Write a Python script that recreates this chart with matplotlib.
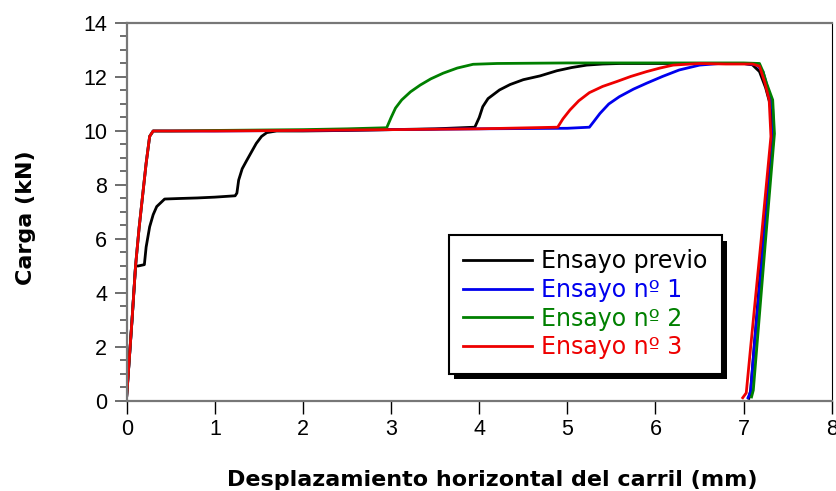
import matplotlib
matplotlib.use('Agg')
import matplotlib.pyplot as plt
import matplotlib.patheffects as pe
from matplotlib.ticker import MultipleLocator

plt.rcParams['font.family'] = ['Liberation Sans', 'DejaVu Sans']

# Ensayo previo
prev_x = [0.0, 0.03, 0.06, 0.10, 0.13, 0.20, 0.22, 0.26, 0.30, 0.34, 0.43, 0.60, 0.80, 1.00,
          1.23, 1.25, 1.27, 1.31, 1.36, 1.42, 1.47, 1.53, 1.59, 1.70, 2.00, 2.50, 3.00, 3.50,
          3.95, 4.00, 4.04, 4.10, 4.23, 4.35, 4.50, 4.69, 4.88, 5.05, 5.22, 5.40, 5.60, 6.00,
          6.50, 7.00, 7.10, 7.18, 7.25, 7.30, 7.33, 7.22, 7.12, 7.08, 7.06]
prev_y = [0.2, 1.6, 3.0, 5.0, 5.0, 5.05, 5.7, 6.45, 6.9, 7.2, 7.48, 7.5, 7.52, 7.55,
          7.6, 7.7, 8.18, 8.6, 8.9, 9.25, 9.54, 9.8, 9.94, 10.0, 10.0, 10.02, 10.05, 10.08,
          10.14, 10.5, 10.9, 11.2, 11.52, 11.72, 11.9, 12.04, 12.23, 12.35, 12.44, 12.48, 12.5, 12.5,
          12.5, 12.5, 12.45, 12.2, 11.6, 11.0, 10.0, 6.0, 2.0, 0.4, 0.1]

# Ensayo nº 1
e1_x = [0.0, 0.03, 0.06, 0.10, 0.14, 0.18, 0.22, 0.26, 0.30, 0.50, 1.00, 2.00, 3.00, 4.00,
        5.00, 5.25, 5.30, 5.37, 5.47, 5.59, 5.75, 5.90, 6.08, 6.27, 6.50, 6.73, 7.00, 7.15,
        7.22, 7.28, 7.33, 7.34, 7.23, 7.12, 7.08, 7.05]
e1_y = [0.2, 1.6, 3.0, 5.0, 6.4, 7.6, 8.8, 9.8, 10.0, 10.0, 10.0, 10.02, 10.05, 10.08,
        10.1, 10.14, 10.35, 10.65, 11.0, 11.27, 11.55, 11.77, 12.02, 12.26, 12.44, 12.5, 12.5, 12.45,
        12.2, 11.5, 10.8, 9.8, 6.0, 2.0, 0.35, 0.12]

# Ensayo nº 2
e2_x = [0.0, 0.03, 0.06, 0.10, 0.14, 0.18, 0.22, 0.26, 0.30, 0.50, 1.00, 2.00, 2.50, 2.95,
        3.00, 3.05, 3.12, 3.22, 3.33, 3.45, 3.59, 3.75, 3.93, 4.20, 5.00, 6.00, 7.00, 7.18,
        7.22, 7.26, 7.33, 7.35, 7.25, 7.15, 7.11, 7.09]
e2_y = [0.2, 1.6, 3.0, 5.0, 6.4, 7.6, 8.8, 9.8, 10.0, 10.0, 10.02, 10.05, 10.08, 10.12,
        10.5, 10.85, 11.15, 11.45, 11.7, 11.93, 12.14, 12.33, 12.47, 12.5, 12.52, 12.52, 12.52, 12.5,
        12.2, 11.77, 11.15, 9.9, 6.0, 2.0, 0.4, 0.15]

# Ensayo nº 3
e3_x = [0.0, 0.03, 0.06, 0.10, 0.14, 0.18, 0.22, 0.26, 0.30, 0.50, 1.00, 2.00, 3.00, 4.00,
        4.89, 4.95, 5.03, 5.13, 5.25, 5.40, 5.56, 5.72, 5.90, 6.05, 6.20, 6.50, 6.80, 7.10,
        7.18, 7.24, 7.29, 7.31, 7.20, 7.08, 7.03, 6.99]
e3_y = [0.2, 1.6, 3.0, 5.0, 6.4, 7.6, 8.8, 9.8, 10.0, 10.0, 10.0, 10.02, 10.05, 10.08,
        10.14, 10.45, 10.78, 11.12, 11.42, 11.65, 11.83, 12.02, 12.2, 12.33, 12.44, 12.5, 12.48, 12.48,
        12.4, 11.8, 11.15, 9.8, 6.0, 2.0, 0.3, 0.12]

labels = ['Ensayo previo', 'Ensayo nº 1', 'Ensayo nº 2', 'Ensayo nº 3']
colors = ['black', '#0000ee', '#008000', '#ee0000']

fig = plt.figure(figsize=(8.36, 4.91), dpi=100)
ax = fig.add_axes([0.1516, 0.1833, 0.8433, 0.7699])

for xs, ys, lab, c in zip([prev_x, e1_x, e2_x, e3_x], [prev_y, e1_y, e2_y, e3_y], labels, colors):
    ax.plot(xs, ys, color=c, lw=2.0, label=lab, solid_joinstyle='round')

ax.set_xlim(0, 8)
ax.set_ylim(0, 14)
ax.set_xticks(range(0, 9))
ax.set_yticks(range(0, 15, 2))
ax.yaxis.set_minor_locator(MultipleLocator(0.5))
ax.tick_params(axis='both', labelsize=15.5)
ax.tick_params(axis='y', which='major', direction='out', length=9, width=1.2, color='#555555', pad=5)
ax.tick_params(axis='y', which='minor', direction='out', length=5, width=1.2, color='#555555')
ax.tick_params(axis='x', which='major', direction='out', length=9, width=1, color='black', pad=4)

for s in ['left', 'bottom', 'top']:
    ax.spines[s].set_color('#777777')
    ax.spines[s].set_linewidth(1.6)
ax.spines['right'].set_color('black')
ax.spines['right'].set_linewidth(0.8)

label_font = dict(family='DejaVu Sans', fontsize=16, fontweight='bold')
ax.set_xlabel('Desplazamiento horizontal del carril (mm)', **label_font)
ax.set_ylabel('Carga (kN)', **label_font)
ax.xaxis.set_label_coords(0.518, -0.182)
ax.yaxis.set_label_coords(-0.128, 0.485)

leg = ax.legend(loc='upper left', bbox_to_anchor=(0.457, 0.439), borderaxespad=0,
                prop={'family': 'DejaVu Sans', 'size': 17}, labelcolor='linecolor',
                handlelength=2.9, handletextpad=0.4, labelspacing=0.2, borderpad=0.6,
                fancybox=False, framealpha=1)
frame = leg.get_frame()
frame.set_edgecolor('black')
frame.set_linewidth(1.5)
frame.set_path_effects([pe.SimplePatchShadow(offset=(4, -4), shadow_rgbFace='black', alpha=1),
                        pe.Normal()])

fig.savefig('out.png', dpi=100)
